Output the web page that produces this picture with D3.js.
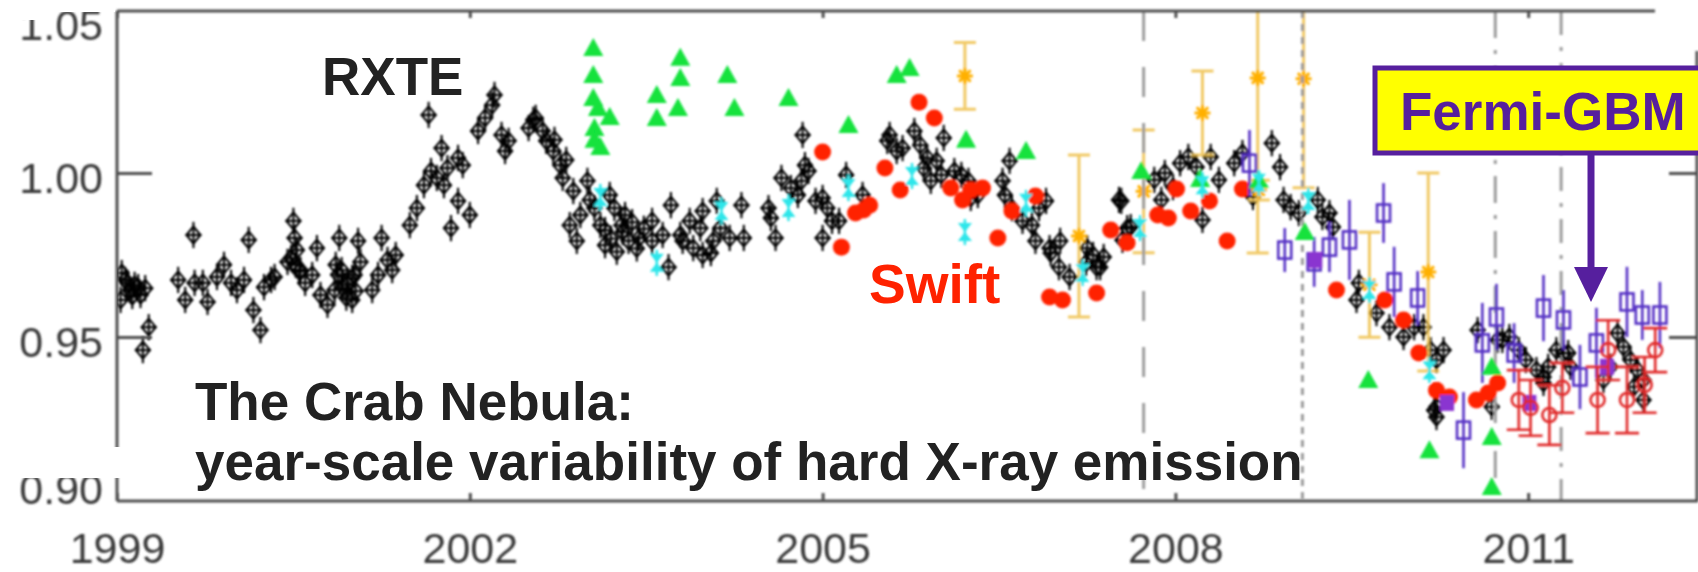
<!DOCTYPE html>
<html>
<head>
<meta charset="utf-8">
<script src="https://cdn.jsdelivr.net/npm/d3@7"></script>
<style>
  html, body { margin: 0; padding: 0; background: #fff; }
  svg { display: block; }
</style>
</head>
<body>
<svg id="chart" width="1698" height="572"></svg>
<script>
// ---------------------------------------------------------------------------
// Crab Nebula hard X-ray flux, normalised, 1999–2012
// ---------------------------------------------------------------------------

// Axis ticks
const xTickYears = [1999, 2002, 2005, 2008, 2011];
const yTickValues = [0.90, 0.95, 1.00, 1.05];

// Epoch markers (vertical reference lines), in years
const epochLines = [2007.73, 2009.08, 2010.72, 2011.28];

// RXTE: [year, normalised flux]
const rxteErr = 0.004;
const rxte = [
  [1999.03,0.9613],[1999.04,0.9695],[1999.07,0.9674],[1999.09,0.9665],[1999.11,0.9643],[1999.13,0.9625],
  [1999.15,0.9659],[1999.18,0.9652],[1999.20,0.9628],[1999.24,0.9649],[1999.27,0.9530],[1999.22,0.9460],
  [1999.52,0.9674],[1999.58,0.9613],[1999.65,0.9811],[1999.66,0.9665],[1999.73,0.9665],[1999.77,0.9607],
  [1999.85,0.9683],[1999.91,0.9720],[1999.97,0.9665],[2000.02,0.9643],[2000.08,0.9674],[2000.12,0.9796],
  [2000.16,0.9582],[2000.22,0.9521],[2000.25,0.9652],[2000.31,0.9674],[2000.34,0.9683],
  [2000.45,0.9729],[2000.48,0.9740],[2000.50,0.9854],[2000.51,0.9802],[2000.52,0.9720],[2000.53,0.9765],
  [2000.55,0.9700],[2000.56,0.9704],[2000.60,0.9665],[2000.66,0.9689],[2000.70,0.9771],[2000.73,0.9628],
  [2000.79,0.9598],[2000.85,0.9643],[2000.86,0.9720],[2000.88,0.9690],[2000.89,0.9802],[2000.91,0.9704],
  [2000.92,0.9650],[2000.95,0.9620],[2000.96,0.9659],[2001.00,0.9613],[2001.00,0.9680],[2001.02,0.9689],
  [2001.03,0.9640],[2001.05,0.9793],[2001.07,0.9729],[2001.17,0.9643],[2001.22,0.9689],[2001.25,0.9802],
  [2001.30,0.9735],[2001.34,0.9704],[2001.37,0.9750],
  [2001.49,0.9841],[2001.55,0.9893],[2001.61,0.9963],[2001.65,1.0177],[2001.67,1.0006],[2001.72,0.9985],
  [2001.76,1.0076],[2001.78,0.9963],[2001.81,1.0015],[2001.84,0.9832],[2001.90,1.0046],[2001.90,0.9915],
  [2001.94,1.0024],[2002.00,0.9872],[2002.07,1.0128],[2002.13,1.0168],[2002.19,1.0207],[2002.21,1.0238],
  [2002.27,1.0116],[2002.30,1.0067],[2002.33,1.0098],[2002.50,1.0137],[2002.54,1.0162],[2002.56,1.0168],
  [2002.62,1.0128],[2002.65,1.0098],[2002.71,1.0067],[2002.72,1.0101],[2002.77,1.0024],[2002.79,0.9985],
  [2002.82,1.0040],[2002.85,0.9841],[2002.88,0.9945],[2002.91,0.9793],[2002.94,0.9872],[2003.00,0.9976],
  [2003.02,0.9918],[2003.06,0.9893],[2003.11,0.9841],[2003.15,0.9826],[2003.15,0.9780],[2003.19,0.9933],
  [2003.20,0.9800],[2003.23,0.9893],[2003.25,0.9760],[2003.29,0.9841],[2003.30,0.9820],[2003.32,0.9872],
  [2003.35,0.9793],[2003.38,0.9850],[2003.42,0.9770],[2003.48,0.9830],
  [2003.44,0.9802],[2003.55,0.9854],[2003.55,0.9793],[2003.64,0.9811],[2003.69,0.9713],[2003.71,0.9902],
  [2003.79,0.9811],[2003.81,0.9793],[2003.87,0.9854],[2003.90,0.9771],[2003.96,0.9832],[2003.98,0.9884],
  [2003.98,0.9750],[2004.05,0.9756],[2004.07,0.9793],[2004.10,0.9915],[2004.13,0.9832],[2004.21,0.9802],
  [2004.31,0.9902],[2004.33,0.9802],[2004.54,0.9893],[2004.56,0.9863],[2004.60,0.9802],[2004.65,0.9985],
  [2004.73,0.9954],[2004.79,0.9933],[2004.82,0.9976],[2004.83,1.0116],[2004.85,1.0024],[2004.88,1.0006],
  [2004.94,0.9915],[2005.00,0.9924],[2005.00,0.9802],[2005.04,0.9893],[2005.08,0.9854],[2005.14,0.9854],
  [2005.20,0.9994],[2005.34,0.9933],[2005.55,1.0098],[2005.57,1.0116],[2005.63,1.0067],[2005.68,1.0076],
  [2005.78,1.0128],[2005.83,1.0085],[2005.86,1.0015],[2005.89,1.0046],[2005.92,0.9976],[2005.97,1.0037],
  [2006.01,0.9994],[2006.03,1.0107],[2006.12,1.0006],[2006.18,0.9994],[2006.24,0.9976],[2006.26,0.9924],
  [2006.32,0.9933],[2006.53,0.9976],[2006.55,0.9933],[2006.59,1.0037],[2006.61,0.9893],[2006.70,0.9854],
  [2006.78,0.9841],[2006.81,0.9793],[2006.84,0.9893],[2006.90,0.9915],[2006.93,0.9771],[2006.94,0.9756],
  [2007.01,0.9713],[2007.02,0.9793],[2007.10,0.9683],[2007.24,0.9726],[2007.25,0.9771],[2007.30,0.9750],
  [2007.33,0.9713],[2007.36,0.9713],[2007.39,0.9744],[2007.52,0.9918],[2007.54,0.9915],[2007.55,0.9796],
  [2007.59,0.9832],[2007.62,0.9835],
  [2007.82,0.9979],[2007.88,0.9918],[2007.91,1.0000],[2007.98,0.9957],[2008.04,1.0030],[2008.11,1.0049],
  [2008.18,1.0018],[2008.23,0.9857],[2008.30,1.0049],[2008.37,0.9979],[2008.50,1.0030],[2008.57,1.0061],
  [2008.66,0.9927],[2008.82,1.0091],[2008.89,1.0018],[2008.92,0.9918],[2008.98,0.9896],[2009.05,0.9878],
  [2009.21,0.9918],[2009.25,0.9866],[2009.31,0.9878],[2009.34,0.9835],
  [2009.54,0.9613],[2009.56,0.9665],[2009.71,0.9573],[2009.82,0.9530],[2009.94,0.9500],[2010.03,0.9530],
  [2010.11,0.9530],[2010.17,0.9460],[2010.22,0.9430],[2010.28,0.9460],[2010.20,0.9277],[2010.22,0.9256],
  [2010.22,0.9287],[2010.57,0.9521],[2010.69,0.9287],[2010.74,0.9491],[2010.78,0.9491],[2010.84,0.9500],
  [2010.92,0.9460],[2010.98,0.9430],[2011.07,0.9399],[2011.13,0.9378],[2011.13,0.9360],[2011.17,0.9409],
  [2011.24,0.9460],[2011.30,0.9451],[2011.34,0.9451],[2011.36,0.9409],[2011.64,0.9369],[2011.70,0.9409],
  [2011.76,0.9512],[2011.81,0.9470],[2011.87,0.9430],[2011.90,0.9348],[2011.93,0.9399],[2011.98,0.9308],
  [2011.98,0.9369]
];

// INTEGRAL / ISGRI (green triangles): [year, flux]
const isgri = [
  [2003.05,1.0381],[2003.05,1.0299],[2003.05,1.0229],[2003.09,1.0198],[2003.19,1.0171],[2003.06,1.0137],
  [2003.06,1.0101],[2003.11,1.0079],[2003.59,1.0238],[2003.59,1.0168],[2003.77,1.0198],[2003.79,1.0351],
  [2003.79,1.0290],[2004.19,1.0299],[2004.25,1.0198],[2004.71,1.0229],[2005.22,1.0146],[2005.63,1.0299],
  [2005.74,1.0320],[2006.22,1.0101],[2006.73,1.0067],[2007.71,1.0006],[2008.21,0.9982],[2008.71,0.9979],
  [2009.10,0.9820],[2009.64,0.9369],[2010.16,0.9155],[2010.69,0.9409],[2010.69,0.9195],[2010.69,0.9043]
];

// INTEGRAL / SPI (cyan): [year, flux]
const spi = [
  [2003.11,0.9927],[2003.59,0.9726],[2004.14,0.9884],[2004.71,0.9893],[2005.22,0.9954],[2005.76,0.9991],
  [2006.21,0.9820],[2006.73,0.9909],[2007.21,0.9695],[2007.70,0.9832],[2008.23,0.9963],[2008.71,0.9970],
  [2009.13,0.9915],[2009.65,0.9643],[2010.16,0.9399]
];

// Swift / BAT (red filled): [year, flux]
const swift = [
  [2005.00,1.0064],[2005.16,0.9774],[2005.28,0.9878],[2005.35,0.9887],[2005.40,0.9902],[2005.53,1.0015],
  [2005.66,0.9948],[2005.82,1.0216],[2005.95,1.0168],[2006.09,0.9954],[2006.19,0.9918],[2006.26,0.9948],
  [2006.36,0.9954],[2006.49,0.9802],[2006.61,0.9884],[2006.81,0.9930],[2006.93,0.9622],[2007.04,0.9613],
  [2007.33,0.9634],[2007.45,0.9826],[2007.59,0.9787],[2007.85,0.9872],[2007.94,0.9863],[2008.01,0.9951],
  [2008.13,0.9884],[2008.29,0.9915],[2008.44,0.9793],[2008.57,0.9951],[2009.37,0.9643],[2009.78,0.9613],
  [2009.94,0.9552],[2010.07,0.9451],[2010.22,0.9338],[2010.33,0.9317],[2010.56,0.9308],[2010.66,0.9329],
  [2010.74,0.9360]
];

// Swift / BAT, later epoch (red open, with errors): [year, flux, err]
const swiftLate = [
  [2010.92,0.9308,0.0091],[2011.02,0.9284,0.0085],[2011.18,0.9262,0.0091],[2011.29,0.9345,0.0076],
  [2011.59,0.9308,0.0101],[2011.68,0.9460,0.0091],[2011.84,0.9308,0.0101],[2011.99,0.9354,0.0085],
  [2012.08,0.9460,0.0067]
];

// Fermi-GBM (open squares, with errors): [year, flux, err]
const gbm = [
  [2008.63,1.0030,0.0101],[2008.93,0.9765,0.0067],[2009.18,0.9729,0.0076],[2009.31,0.9774,0.0076],
  [2009.48,0.9796,0.0122],[2009.77,0.9878,0.0091],[2009.86,0.9668,0.0107],[2010.06,0.9619,0.0082],
  [2010.45,0.9216,0.0116],[2010.61,0.9482,0.0122],[2010.73,0.9561,0.0101],[2010.88,0.9451,0.0091],
  [2011.13,0.9588,0.0101],[2011.30,0.9552,0.0091],[2011.44,0.9378,0.0098],[2011.58,0.9482,0.0107],
  [2011.84,0.9607,0.0107],[2011.97,0.9567,0.0076],[2012.12,0.9567,0.0101]
];

// Fermi-GBM, occultation subset (violet filled): [year, flux]
const gbmOcc = [
  [2009.19,0.9735],[2010.31,0.9299],[2011.01,0.9299],[2011.67,0.9409]
];

// Suzaku / HXD (gold asterisks, with errors): [year, flux, err]
const suzaku = [
  [2006.21,1.0296,0.0102],[2007.18,0.9808,0.0247],[2007.73,0.9944,0.0187],[2008.23,1.0183,0.0128],
  [2008.70,1.0290,0.0534],[2008.71,0.9948,0.0030],[2009.09,1.0287,0.0332],[2009.65,0.9659,0.0160],
  [2010.15,0.9698,0.0302]
];

// ---------------------------------------------------------------------------
const svg = d3.select("#chart");
const frame = { left: 117, right: 1697, top: 11, bottom: 501, topEnd: 1655, rightStart: 51 };

const x = d3.scaleLinear().domain([1999, 2011]).range([117, 1528.2]);
const y = d3.scaleLinear().domain([0.90, 1.05]).range([501, 9]);

const defs = svg.append("defs");
defs.append("clipPath").attr("id", "plot-clip")
  .append("rect")
  .attr("x", frame.left).attr("y", frame.top)
  .attr("width", frame.right - frame.left).attr("height", frame.bottom - frame.top);
defs.append("filter").attr("id", "soft").attr("x", "-5%").attr("y", "-5%").attr("width", "110%").attr("height", "110%")
  .append("feGaussianBlur").attr("stdDeviation", 0.8);

const axisColor = "#4e4e4e";
const labelFont = "'Liberation Sans', Arial, Helvetica, sans-serif";
const errPx = (v, e) => y(v - e) - y(v);

// --- layers, back to front ------------------------------------------------------
const marks = svg.append("g").attr("clip-path", "url(#plot-clip)").attr("filter", "url(#soft)");
const layerRxte = marks.append("g");
const layerGold = marks.append("g");
const layerEpoch = marks.append("g");
const layerTop = marks.append("g");

// RXTE: open diamonds with error cross
layerRxte.attr("stroke", "#000").attr("fill", "none").attr("stroke-width", 2.1)
  .selectAll("g").data(rxte).join("g")
  .attr("transform", d => `translate(${x(d[0])},${y(d[1])})`)
  .each(function (d) {
    const g = d3.select(this), e = errPx(d[1], rxteErr);
    g.append("line").attr("y1", -e).attr("y2", e);
    g.append("line").attr("x1", -8).attr("x2", 8);
    g.append("path").attr("d", "M0,-8.5L7,0L0,8.5L-7,0Z");
  });

// Suzaku: capped error bars and asterisks
layerGold.selectAll("g").data(suzaku).join("g")
  .attr("transform", d => `translate(${x(d[0])},${y(d[1])})`)
  .each(function (d) {
    const g = d3.select(this), e = errPx(d[1], d[2]);
    g.append("path")
      .attr("d", `M0,${-e}L0,${e}M-11,${-e}L11,${-e}M-11,${e}L11,${e}`)
      .attr("stroke", "#efc04a").attr("stroke-width", 3).attr("fill", "none").attr("opacity", 0.85);
    g.append("path")
      .attr("d", "M-8,0L8,0M0,-8L0,8M-5.7,-5.7L5.7,5.7M-5.7,5.7L5.7,-5.7")
      .attr("stroke", "#ffb000").attr("stroke-width", 3);
  });

// Epoch lines
const epochStyles = ["30,26", "7,6", "27,12,4,12", "24,12,4,12"];
layerEpoch.selectAll("line").data(epochLines).join("line")
  .attr("x1", d => x(d)).attr("x2", d => x(d))
  .attr("y1", frame.top).attr("y2", frame.bottom)
  .attr("stroke", "#9c9c9c").attr("stroke-width", 3)
  .attr("stroke-dasharray", (d, i) => epochStyles[i]);

// Swift (red filled circles)
layerTop.append("g").attr("fill", "#ff2200")
  .selectAll("circle").data(swift).join("circle")
  .attr("cx", d => x(d[0])).attr("cy", d => y(d[1])).attr("r", 8.5);

// Fermi-GBM open squares with error bars
layerTop.append("g").attr("stroke", "#5530c4").attr("stroke-width", 2.6).attr("fill", "none")
  .selectAll("g").data(gbm).join("g")
  .attr("transform", d => `translate(${x(d[0])},${y(d[1])})`)
  .each(function (d) {
    const g = d3.select(this), e = errPx(d[1], d[2]);
    g.append("line").attr("y1", -e).attr("y2", e);
    g.append("rect").attr("x", -6.5).attr("y", -8.5).attr("width", 13).attr("height", 17);
  });

// Fermi-GBM occultation subset (violet filled)
layerTop.append("g").attr("fill", "#8a34d0")
  .selectAll("rect").data(gbmOcc).join("rect")
  .attr("x", d => x(d[0]) - 7).attr("y", d => y(d[1]) - 8).attr("width", 14).attr("height", 16);

// Swift later epoch (red open circles with capped error bars)
layerTop.append("g").attr("stroke", "#e02a2a").attr("stroke-width", 2.6).attr("fill", "none")
  .selectAll("g").data(swiftLate).join("g")
  .attr("transform", d => `translate(${x(d[0])},${y(d[1])})`)
  .each(function (d) {
    const g = d3.select(this), e = errPx(d[1], d[2]);
    g.append("path").attr("d", `M0,${-e}L0,${e}M-12,${-e}L12,${-e}M-12,${e}L12,${e}`);
    g.append("circle").attr("r", 7);
  });

// INTEGRAL / ISGRI (green triangles)
layerTop.append("g").attr("fill", "#12e23e")
  .selectAll("path").data(isgri).join("path")
  .attr("transform", d => `translate(${x(d[0])},${y(d[1])})`)
  .attr("d", "M0,-10L10,8L-10,8Z");

// INTEGRAL / SPI (cyan hourglass with error bar)
layerTop.append("g")
  .selectAll("g").data(spi).join("g")
  .attr("transform", d => `translate(${x(d[0])},${y(d[1])})`)
  .each(function () {
    const g = d3.select(this);
    g.append("line").attr("y1", -13).attr("y2", 13).attr("stroke", "#2ee6ea").attr("stroke-width", 2.5);
    g.append("path").attr("d", "M-7,-9L7,-9L0,0L7,9L-7,9L0,0Z").attr("fill", "#2ee6ea");
  });

// --- axes --------------------------------------------------------------------
const axes = svg.append("g").attr("filter", "url(#soft)");

const styleAxis = g => {
  g.select(".domain").remove();
  g.selectAll(".tick line").attr("stroke", axisColor).attr("stroke-width", 3);
  g.selectAll(".tick text")
    .attr("fill", "#3a3a3a").attr("font-size", 43).attr("font-family", labelFont);
};

// bottom
axes.append("g").attr("transform", `translate(0,${frame.bottom})`)
  .call(d3.axisBottom(x).tickValues(xTickYears).tickFormat(d3.format("d")).tickSize(-8).tickPadding(0))
  .call(styleAxis)
  .call(g => g.selectAll(".tick text").attr("y", 62).attr("dy", 0));

// top
axes.append("g").attr("transform", `translate(0,${frame.top})`)
  .call(d3.axisTop(x).tickValues(xTickYears).tickFormat("").tickSize(-7))
  .call(styleAxis);

// left
axes.append("g").attr("transform", `translate(${frame.left},0)`)
  .call(d3.axisLeft(y).tickValues(yTickValues).tickFormat(d3.format(".2f")).tickSize(-35).tickPadding(14))
  .call(styleAxis)
  .call(g => g.selectAll(".tick line").filter(d => d === 0.90 || d === 1.05).remove())
  .call(g => g.selectAll(".tick text")
    .attr("dy", "0.35em")
    .attr("y", d => Math.min(Math.max(y(d) + 4, 24), 488) - y(d)));

// right
axes.append("g").attr("transform", `translate(${frame.right},0)`)
  .call(d3.axisRight(y).tickValues([0.95, 1.00]).tickFormat("").tickSize(-28))
  .call(styleAxis);

// frame
const frameLines = [
  [frame.left, frame.top, frame.topEnd, frame.top],
  [frame.left, frame.top, frame.left, frame.bottom],
  [frame.left, frame.bottom, 1698, frame.bottom],
  [frame.right, frame.rightStart, frame.right, frame.bottom]
];
axes.append("g").selectAll("line").data(frameLines).join("line")
  .attr("x1", d => d[0]).attr("y1", d => d[1]).attr("x2", d => d[2]).attr("y2", d => d[3])
  .attr("stroke", axisColor).attr("stroke-width", 3);

// white patches over the corner labels
svg.append("rect").attr("x", 10).attr("y", 447).attr("width", 111).attr("height", 31).attr("fill", "#fff");
svg.append("rect").attr("x", 0).attr("y", 0).attr("width", 115).attr("height", 12).attr("fill", "#fff");
svg.append("rect").attr("x", 12).attr("y", 12).attr("width", 30).attr("height", 8).attr("fill", "#fff");

// --- annotations ---------------------------------------------------------------
const purple = "#561f9e";

// Fermi-GBM callout box and arrow
svg.append("rect").attr("x", 1375).attr("y", 68).attr("width", 330).attr("height", 85)
  .attr("fill", "#ffff00").attr("stroke", purple).attr("stroke-width", 5);
svg.append("line").attr("x1", 1591).attr("x2", 1591).attr("y1", 155).attr("y2", 270)
  .attr("stroke", purple).attr("stroke-width", 7);
svg.append("path").attr("d", "M1574,267L1608,267L1591,302Z").attr("fill", purple);

const ann = svg.append("g")
  .attr("font-family", labelFont).attr("font-weight", "bold").attr("font-size", 53);

ann.append("text").attr("x", 322).attr("y", 95).attr("fill", "#222").text("RXTE");
ann.append("text").attr("x", 869).attr("y", 303).attr("fill", "#ff2200").attr("font-size", 55).text("Swift");
ann.append("text").attr("x", 195).attr("y", 420).attr("fill", "#222").text("The Crab Nebula:");
ann.append("text").attr("x", 195).attr("y", 480).attr("fill", "#222")
  .text("year-scale variability of hard X-ray emission");
ann.append("text").attr("x", 1400).attr("y", 130).attr("fill", purple).text("Fermi-GBM");
</script>
</body>
</html>
